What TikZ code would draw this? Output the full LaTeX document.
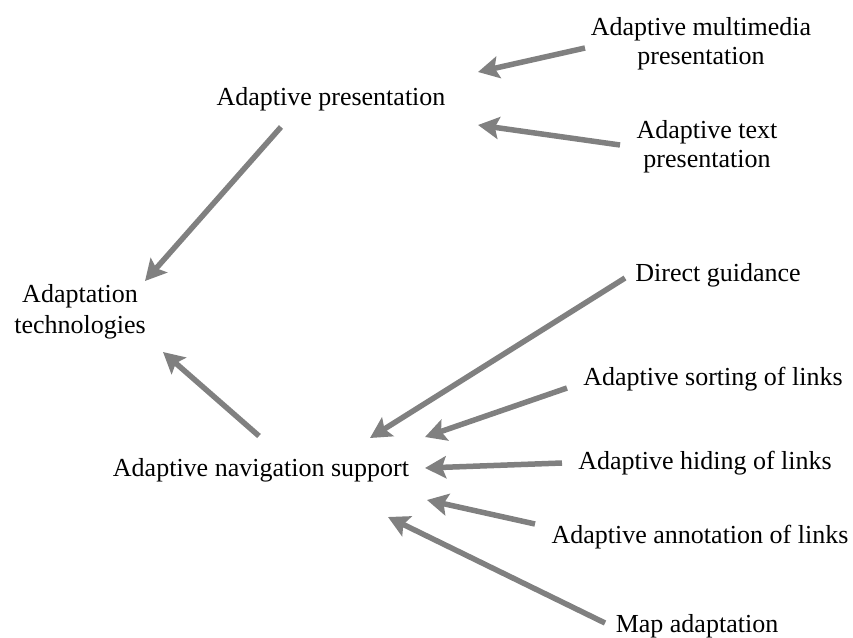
\documentclass[tikz,border=0pt]{standalone}
\usepackage{fontspec}
\setmainfont{Liberation Serif}
\usetikzlibrary{arrows.meta}
\definecolor{arrowgray}{RGB}{128,128,128}
\begin{document}
\begin{tikzpicture}[x=1pt,y=-1pt,
  lbl/.style={inner sep=0pt, align=center, font=\fontsize{26}{29}\selectfont},
  arr/.style={draw=arrowgray, line width=5.5pt,
    -{Stealth[length=21pt,width=22pt,inset=4pt]}}]
\useasboundingbox (0,0) rectangle (853,637);

% concept nodes
\node[lbl] (ap)  at (331,99)  {Adaptive presentation};
\node[lbl] (mm)  at (701,44)  {Adaptive multimedia\\presentation};
\node[lbl] (txt) at (707,147) {Adaptive text\\presentation};
\node[lbl, font=\fontsize{26}{31}\selectfont] (at) at (80,312) {Adaptation\\technologies};
\node[lbl] (ans) at (261,470) {Adaptive navigation support};
\node[lbl] (dg)  at (718,275) {Direct guidance};
\node[lbl] (so)  at (713,379) {Adaptive sorting of links};
\node[lbl] (hi)  at (705,463) {Adaptive hiding of links};
\node[lbl] (an)  at (700,537) {Adaptive annotation of links};
\node[lbl] (ma)  at (697,626) {Map adaptation};

% arrows into the presentation branch
\draw[arr] ([shift={(-116,4)}]mm.center) -- ([shift={(147,-27)}]ap.center);
\draw[arr] ([shift={(-87,-2)}]txt.center) -- ([shift={(147,26)}]ap.center);

% both branches into the root
\draw[arr] ([shift={(-50,28)}]ap.center)  -- ([shift={(65,-31)}]at.center);
\draw[arr] ([shift={(-2,-34)}]ans.center) -- ([shift={(83,40)}]at.center);

% arrows into the navigation branch
\draw[arr] ([shift={(-93,3)}]dg.center)   -- ([shift={(109,-32)}]ans.center);
\draw[arr] ([shift={(-146,9)}]so.center)  -- ([shift={(164,-33)}]ans.center);
\draw[arr] ([shift={(-143,0)}]hi.center)  -- ([shift={(164,-2)}]ans.center);
\draw[arr] ([shift={(-165,-13)}]an.center) -- ([shift={(166,30)}]ans.center);
\draw[arr] ([shift={(-92,-3)}]ma.center) -- ([shift={(127,47)}]ans.center);
\end{tikzpicture}
\end{document}
